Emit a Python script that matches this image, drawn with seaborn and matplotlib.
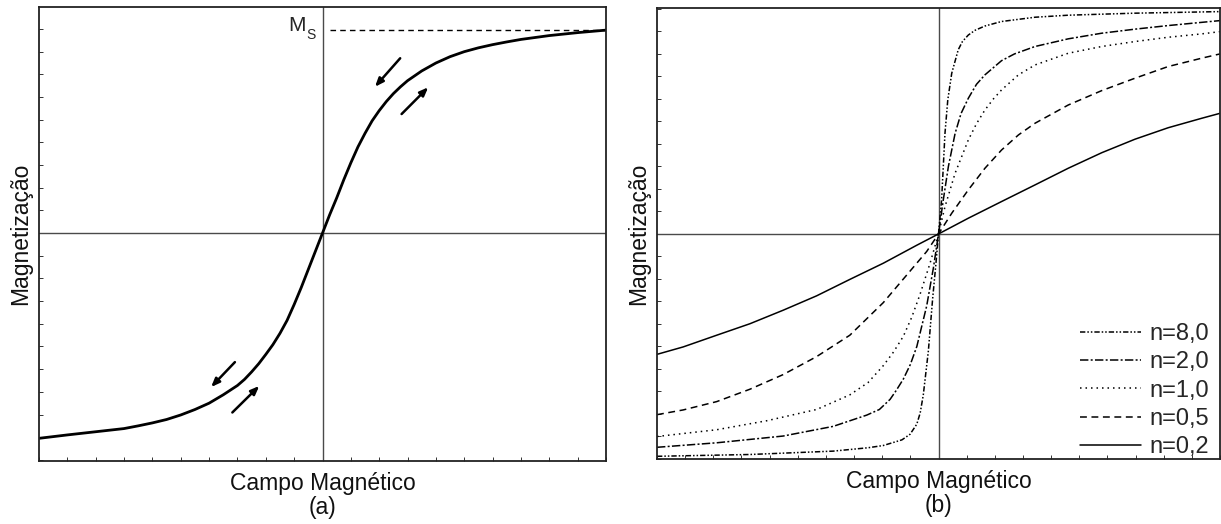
import matplotlib
matplotlib.use("Agg")
import matplotlib.pyplot as plt
import matplotlib.ticker as mticker
import seaborn as sns

# Painel (a): curva de magnetizacao (campo normalizado -1..1, M em unidades de marca)
campo_a = [-1.0, -0.90, -0.80, -0.70, -0.65, -0.60, -0.55, -0.50, -0.45, -0.40,
           -0.35, -0.30, -0.275, -0.25, -0.225, -0.20, -0.175, -0.15, -0.125, -0.10,
           -0.075, -0.05, -0.025, 0.0, 0.025, 0.05, 0.075, 0.10, 0.125, 0.15,
           0.175, 0.20, 0.225, 0.25, 0.275, 0.30, 0.35, 0.40, 0.45, 0.50,
           0.55, 0.60, 0.65, 0.70, 0.80, 0.90, 1.0]
mag_a = [-9.05, -8.90, -8.76, -8.62, -8.50, -8.37, -8.22, -8.02, -7.78, -7.50,
         -7.13, -6.72, -6.45, -6.12, -5.76, -5.35, -4.92, -4.42, -3.85, -3.15,
         -2.40, -1.60, -0.80, 0.0, 0.80, 1.55, 2.35, 3.10, 3.80, 4.40,
         4.95, 5.40, 5.80, 6.15, 6.45, 6.72, 7.15, 7.50, 7.78, 8.00,
         8.17, 8.31, 8.43, 8.54, 8.71, 8.84, 8.95]
ms_valor = 8.95

# Painel (b): curvas para varios n
campo_n02 = [-1.0, -0.907, -0.788, -0.670, -0.552, -0.433, -0.315, -0.196, -0.077, 0.0,
             0.106, 0.224, 0.343, 0.461, 0.580, 0.698, 0.816, 0.935, 1.0]
mag_n02 = [-5.35, -5.02, -4.50, -3.99, -3.39, -2.75, -2.02, -1.30, -0.50, 0.0,
           0.70, 1.44, 2.18, 2.92, 3.61, 4.21, 4.72, 5.14, 5.36]

campo_n05 = [-1.0, -0.907, -0.788, -0.670, -0.552, -0.433, -0.315, -0.196, -0.101, -0.042, 0.0,
             0.047, 0.106, 0.165, 0.224, 0.284, 0.343, 0.461, 0.580, 0.698, 0.816, 0.935, 1.0]
mag_n05 = [-8.03, -7.82, -7.45, -6.90, -6.25, -5.45, -4.50, -3.05, -1.65, -0.78, 0.0,
           0.92, 1.96, 2.92, 3.73, 4.40, 4.92, 5.73, 6.37, 6.92, 7.44, 7.81, 8.0]

campo_n10 = [-1.0, -0.788, -0.610, -0.433, -0.315, -0.25, -0.196, -0.16, -0.125, -0.095,
             -0.066, -0.030, 0.0, 0.023, 0.059, 0.106, 0.135, 0.165, 0.195, 0.224,
             0.284, 0.343, 0.461, 0.580, 0.698, 0.816, 0.935, 1.0]
mag_n10 = [-9.0, -8.70, -8.30, -7.80, -7.15, -6.60, -5.85, -5.25, -4.55, -3.70,
           -2.70, -1.30, 0.0, 1.21, 2.70, 4.18, 4.90, 5.51, 6.00, 6.40,
           7.07, 7.51, 8.03, 8.33, 8.55, 8.74, 8.89, 8.99]

campo_n20 = [-1.0, -0.788, -0.552, -0.374, -0.255, -0.21, -0.172, -0.15, -0.125, -0.10,
             -0.077, -0.042, -0.018, 0.0, 0.017, 0.035, 0.059, 0.08, 0.106, 0.135,
             0.165, 0.224, 0.27, 0.343, 0.461, 0.580, 0.698, 0.816, 1.0]
mag_n20 = [-9.48, -9.28, -8.98, -8.55, -8.05, -7.80, -7.35, -6.95, -6.45, -5.80,
           -5.00, -3.20, -1.50, 0.0, 1.51, 2.99, 4.47, 5.35, 6.03, 6.65,
           7.07, 7.70, 8.00, 8.33, 8.67, 8.92, 9.10, 9.26, 9.48]

campo_n80 = [-1.0, -0.670, -0.374, -0.25, -0.196, -0.13, -0.101, -0.077, -0.065, -0.054,
             -0.036, -0.021, -0.009, 0.0, 0.011, 0.017, 0.023, 0.033, 0.047, 0.070,
             0.085, 0.106, 0.13, 0.165, 0.224, 0.343, 0.461, 0.698, 1.0]
mag_n80 = [-9.88, -9.80, -9.65, -9.50, -9.40, -9.15, -8.90, -8.45, -7.95, -7.15,
           -5.20, -2.90, -1.30, 0.0, 1.51, 2.99, 4.47, 5.96, 7.14, 8.18,
           8.55, 8.84, 9.05, 9.24, 9.44, 9.63, 9.72, 9.81, 9.88]

rotulos_n = ["n=8,0", "n=2,0", "n=1,0", "n=0,5", "n=0,2"]

sns.set_theme(style="ticks")
plt.rcParams['font.family'] = ['Liberation Sans', 'DejaVu Sans']

fig = plt.figure(figsize=(12.21, 5.24), dpi=100)
ax_a = fig.add_axes([39/1221, 63/524, 567/1221, 454/524])
ax_b = fig.add_axes([657/1221, 65/524, 563/1221, 451/524])

EIXO = "#4a4a4a"
FS = 16.5

def estilo_eixo(ax, letra, ylim):
    ax.set_xlim(-1.0, 1.0)
    ax.set_ylim(*ylim)
    ax.axhline(0, color=EIXO, lw=1.0, zorder=1)
    ax.axvline(0, color=EIXO, lw=1.0, zorder=1)
    ax.xaxis.set_major_locator(mticker.MultipleLocator(0.1))
    ax.yaxis.set_major_locator(mticker.MultipleLocator(1))
    ax.tick_params(direction="in", length=3, width=0.7, color="#333333",
                   labelbottom=False, labelleft=False,
                   top=False, right=False)
    for s in ax.spines.values():
        s.set_linewidth(1.3)
        s.set_color("#222222")
    ax.set_xlabel(f"Campo Magnético\n({letra})", fontsize=FS, labelpad=8,
                  linespacing=1.05, color="#111111")
    ax.set_ylabel("Magnetização", fontsize=FS, labelpad=5, color="#111111")

# ---- painel (a)
estilo_eixo(ax_a, "a", (-10.05, 9.97))
sns.lineplot(x=campo_a, y=mag_a, ax=ax_a, color="black", lw=2.0,
             sort=False, estimator=None)
sns.lineplot(x=[0.026, 1.0], y=[ms_valor, ms_valor], ax=ax_a, color="black",
             lw=1.0, sort=False, estimator=None)
ax_a.lines[-1].set_linestyle((0, (4, 3)))
ax_a.text(-0.060, 8.92, "M", fontsize=15, ha="right", va="baseline")
ax_a.text(-0.058, 8.55, "S", fontsize=10, ha="left", va="baseline")

setas = [((0.274, 7.71), (0.185, 6.45)),
         ((0.279, 5.25), (0.373, 6.43)),
         ((-0.309, -5.69), (-0.393, -6.79)),
         ((-0.318, -7.91), (-0.223, -6.74))]
for ini, fim in setas:
    ax_a.annotate("", xy=fim, xytext=ini,
                  arrowprops=dict(arrowstyle="-|>,head_length=0.45,head_width=0.18",
                                  lw=1.8, color="black", shrinkA=0, shrinkB=0,
                                  mutation_scale=11))

# ---- painel (b)
estilo_eixo(ax_b, "b", (-10.0, 10.04))
curvas = [(campo_n80, mag_n80, (0, (3.5, 1.3, 1, 1.3, 1, 1.3))),
          (campo_n20, mag_n20, (0, (5.5, 1.5, 1.3, 1.5))),
          (campo_n10, mag_n10, (0, (1, 2.6))),
          (campo_n05, mag_n05, (0, (4.5, 3))),
          (campo_n02, mag_n02, "-")]
alcas = []
for (cx, my, ls), rot in zip(curvas, rotulos_n):
    sns.lineplot(x=cx, y=my, ax=ax_b, color="black", lw=1.1,
                 sort=False, estimator=None)
    ln = ax_b.lines[-1]
    ln.set_linestyle(ls)
    ln.set_label(rot)
    alcas.append(ln)

ax_b.legend(handles=alcas, labels=rotulos_n, loc="lower right",
            bbox_to_anchor=(1.006, -0.03), frameon=False, fontsize=17,
            handlelength=2.6, handletextpad=0.35, labelspacing=0.27,
            borderaxespad=0.2)

fig.savefig("out.png", dpi=100)
